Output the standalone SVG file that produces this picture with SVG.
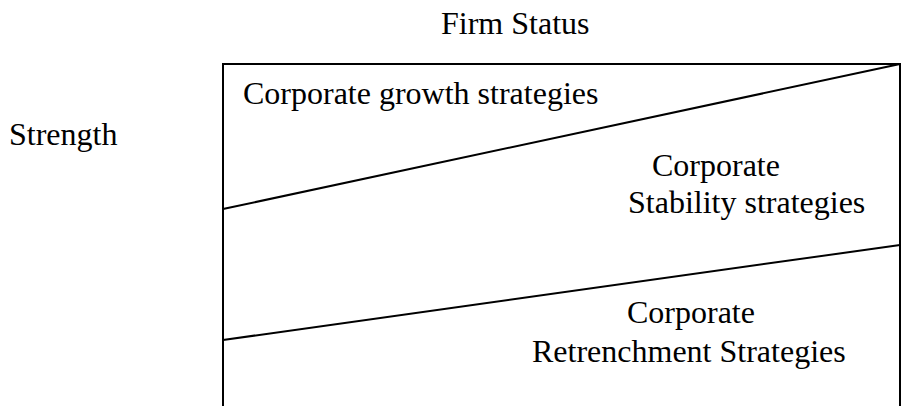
<svg xmlns="http://www.w3.org/2000/svg" width="903" height="406" viewBox="0 0 903 406">
  <style>
    text { font-family: "Liberation Serif", "Times New Roman", serif; font-size: 32px; fill: #000; }
    .edge { fill: none; stroke: #000; stroke-width: 2; }
  </style>
  <rect width="903" height="406" fill="#fff"/>

  <!-- axis labels -->
  <g id="label-firm-status"><text x="441" y="34">Firm Status</text></g>
  <g id="label-strength"><text x="9" y="145">Strength</text></g>

  <!-- frame, open at the bottom -->
  <g id="frame">
    <path class="edge" d="M223,406 V64 H900 V406"/>
  </g>

  <!-- dividing lines between the strategy zones -->
  <g id="connectors">
    <line class="edge" x1="223" y1="209" x2="900" y2="64"/>
    <line class="edge" x1="223" y1="340" x2="900" y2="245"/>
  </g>

  <g id="zone-growth">
    <text x="243" y="104">Corporate growth strategies</text>
  </g>
  <g id="zone-stability">
    <text x="652" y="176">Corporate</text>
    <text x="628" y="213">Stability strategies</text>
  </g>
  <g id="zone-retrenchment">
    <text x="627" y="323">Corporate</text>
    <text x="532" y="362">Retrenchment Strategies</text>
  </g>
</svg>
